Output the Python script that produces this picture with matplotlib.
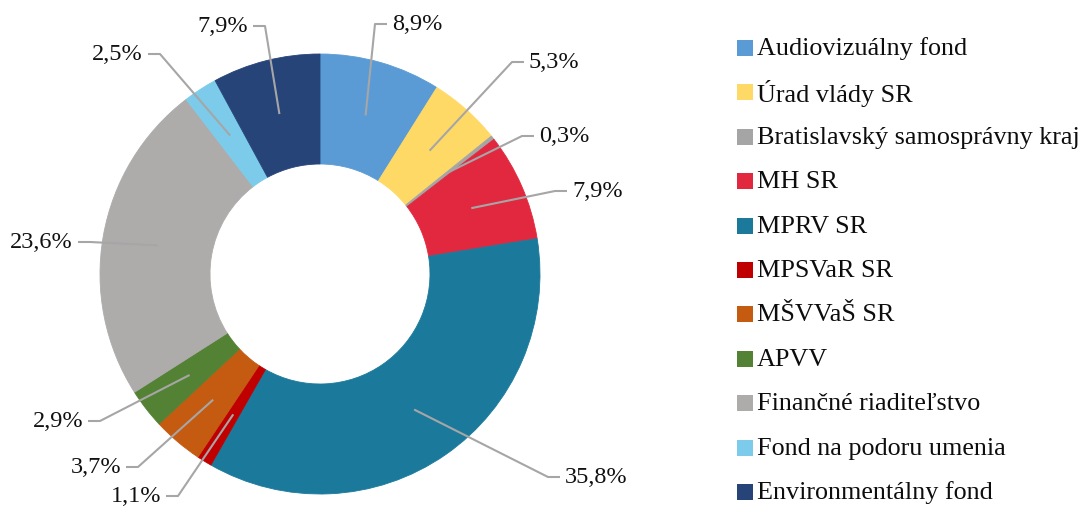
import numpy as np
import matplotlib
matplotlib.use("Agg")
import matplotlib.pyplot as plt
from matplotlib.patches import Rectangle

categories = ["Audiovizuálny fond", "Úrad vlády SR", "Bratislavský samosprávny kraj",
              "MH SR", "MPRV SR", "MPSVaR SR", "MŠVVaŠ SR", "APVV",
              "Finančné riaditeľstvo", "Fond na podoru umenia", "Environmentálny fond"]
values = [8.9, 5.3, 0.3, 7.9, 35.8, 1.1, 3.7, 2.9, 23.6, 2.5, 7.9]
labels = ["8,9%", "5,3%", "0,3%", "7,9%", "35,8%", "1,1%", "3,7%", "2,9%", "23,6%", "2,5%", "7,9%"]
colors = ["#5B9BD5", "#FFD966", "#A5A5A5", "#E2283F", "#1B7A9B", "#C00000",
          "#C55A11", "#548235", "#AEABAB", "#7CCBEA", "#264478"]

# label elbow positions (pixels in figure) and side
elbows = [(375, 25), (512, 63), (522, 137), (555, 192), (548, 478),
          (178, 497), (138, 468), (100, 422), (90, 243), (160, 55), (265, 27)]
sides = [1, 1, 1, 1, 1, -1, -1, -1, -1, -1, -1]

W, H = 1084, 510
CX, CY, R = 320, 275, 220

plt.rcParams['font.family'] = ['Liberation Serif', 'DejaVu Serif']
fig = plt.figure(figsize=(W / 100, H / 100), dpi=100)
ax = fig.add_axes([(CX - R) / W, (H - CY - R) / H, 2 * R / W, 2 * R / H])
ax.set_xlim(-1, 1)
ax.set_ylim(-1, 1)
ax.set_aspect('equal')
ax.axis('off')

wedges, _ = ax.pie(values, colors=colors, startangle=90, counterclock=False,
                   radius=1.0, wedgeprops=dict(width=0.5, linewidth=0.6),
                   frame=False)
for w, c in zip(wedges, colors):
    w.set_edgecolor(c)
ax.set_xlim(-1, 1)
ax.set_ylim(-1, 1)

def px2data(px, py):
    return (px - CX) / R, (CY - py) / R

for w, lab, (ex, ey), s in zip(wedges, labels, elbows, sides):
    ang = np.deg2rad((w.theta1 + w.theta2) / 2)
    ax_, ay_ = 0.75 * np.cos(ang), 0.75 * np.sin(ang)
    exd, eyd = px2data(ex, ey)
    hx = exd + s * 12 / R
    ax.plot([ax_, exd, hx], [ay_, eyd, eyd], color="#A6A6A6", lw=1.5,
            clip_on=False, solid_capstyle='butt')
    ax.text(hx + s * 5 / R, eyd, lab, ha='left' if s > 0 else 'right',
            va='center', fontsize=17.5, color="#111111", clip_on=False)

# legend drawn manually
for i, (cat, c) in enumerate(zip(categories, colors)):
    yc = 49 + i * 44.4
    fig.patches.append(Rectangle(((737) / W, (H - yc - 8) / H), 16 / W, 16 / H,
                                 transform=fig.transFigure, facecolor=c,
                                 edgecolor='none'))
    fig.text(757 / W, (H - yc) / H, cat, ha='left', va='center',
             fontsize=18.8, color="#0d0d0d")

fig.savefig("out.png", dpi=100)
